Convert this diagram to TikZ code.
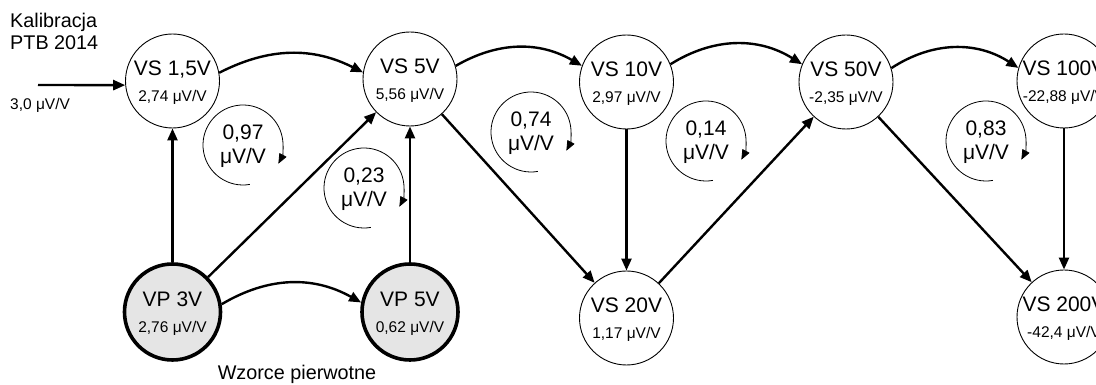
\documentclass[tikz,border=0pt]{standalone}
\usepackage{fontspec}
\setmainfont{Liberation Sans}
\usetikzlibrary{arrows.meta}
\begin{document}
\begin{tikzpicture}[x=1pt,y=1pt,
  vs/.style={circle, draw, line width=0.9pt, minimum size=94pt, inner sep=0pt},
  vp/.style={circle, draw, line width=3.6pt, fill=black!10, minimum size=96pt, inner sep=0pt},
  big/.style={font=\fontsize{21}{24}\selectfont, anchor=base, inner sep=0pt},
  small/.style={font=\fontsize{15.5}{18}\selectfont, anchor=base, inner sep=0pt},
  lbl/.style={font=\fontsize{19.8}{22}\selectfont, anchor=base west, inner sep=0pt},
  conn/.style={line width=2.4pt, -{Triangle[length=12pt,width=10pt]}},
  loopa/.style={line width=0.8pt, -{Triangle[length=10pt,width=8pt]}},
]
\useasboundingbox (0,0) rectangle (1096,385);
\clip (0,0) rectangle (1096,385);

% main nodes
\node[vs] (VS15) at (172.5,304) {};
\node[vs] (VS5) at (410,306) {};
\node[vs] (VS10) at (626.5,303) {};
\node[vs] (VS50) at (846,303) {};
\node[vs] (VS100) at (1064,304) {};
\node[vs] (VS20) at (626.5,67) {};
\node[vs] (VS200) at (1064,68) {};
\node[vp] (VP3) at (172.5,73) {};
\node[vp] (VP5) at (410,73) {};

% node texts
\node[big] (t15a) at ([yshift=5pt]VS15.center) {VS 1,5V};
\node[small] (t15b) at ([yshift=-21pt]VS15.center) {2,74 μV/V};
\node[big] (t5a) at ([yshift=5pt]VS5.center) {VS 5V};
\node[small] (t5b) at ([yshift=-21pt]VS5.center) {5,56 μV/V};
\node[big] (t10a) at ([yshift=5pt]VS10.center) {VS 10V};
\node[small] (t10b) at ([yshift=-21pt]VS10.center) {2,97 μV/V};
\node[big] (t50a) at ([yshift=5pt]VS50.center) {VS 50V};
\node[small] (t50b) at ([yshift=-21pt]VS50.center) {-2,35 μV/V};
\node[big] (t100a) at ([yshift=5pt]VS100.center) {VS 100V};
\node[small] (t100b) at ([yshift=-21pt]VS100.center) {-22,88 μV/V};
\node[big] (t20a) at ([yshift=5pt]VS20.center) {VS 20V};
\node[small] (t20b) at ([yshift=-21pt]VS20.center) {1,17 μV/V};
\node[big] (t200a) at ([yshift=5pt]VS200.center) {VS 200V};
\node[small] (t200b) at ([yshift=-21pt]VS200.center) {-42,4 μV/V};
\node[big] (tp3a) at ([yshift=5pt]VP3.center) {VP 3V};
\node[small] (tp3b) at ([yshift=-21pt]VP3.center) {2,76 μV/V};
\node[big] (tp5a) at ([yshift=5pt]VP5.center) {VP 5V};
\node[small] (tp5b) at ([yshift=-21pt]VP5.center) {0,62 μV/V};

% labels
\node[lbl] (kal) at (10,357) {Kalibracja};
\node[lbl] (ptb) at (10,335) {PTB 2014};
\node[small, anchor=base west] (inval) at (10,275) {3,0 μV/V};
\node[lbl, anchor=base] (wz) at (297,5) {Wzorce pierwotne};

% input arrow
\coordinate (in) at (38,300);
\draw[conn] (in) -- (VS15.185);

% curved arrows
\draw[conn] (VS15.10) to[bend left=27] (VS5.172);
\draw[conn] (VS5.16) to[bend left=30] (VS10.160);
\draw[conn] (VS10.22) to[bend left=32] (VS50.158);
\draw[conn] (VS50.17) to[bend left=33] (VS100.164);
\draw[conn] (VP3.9) to[bend left=30] (VP5.169);

% straight arrows
\draw[conn] (VP3) -- (VS15);
\draw[conn] (VP3) -- (VS5);
\draw[conn] (VP5) -- (VS5);
\draw[conn] (VS5) -- (VS20);
\draw[conn] (VS10) -- (VS20);
\draw[conn] (VS20) -- (VS50);
\draw[conn] (VS50) -- (VS200);
\draw[conn] (VS100) -- (VS200);

% loops
\coordinate (L1) at (243,240);
\coordinate (L2) at (364,197);
\coordinate (L3) at (531,253);
\coordinate (L4) at (706,244);
\coordinate (L5) at (986,244);
\foreach \c in {L1,L2,L3,L4,L5}{
  \draw[loopa] (\c) ++(-80:40) arc[start angle=-80, end angle=-388, radius=40];
}
\node[big] (l1a) at ([yshift=5pt]L1) {0,97};
\node[big] (l1b) at ([yshift=-19pt]L1) {μV/V};
\node[big] (l2a) at ([yshift=5pt]L2) {0,23};
\node[big] (l2b) at ([yshift=-19pt]L2) {μV/V};
\node[big] (l3a) at ([yshift=5pt]L3) {0,74};
\node[big] (l3b) at ([yshift=-19pt]L3) {μV/V};
\node[big] (l4a) at ([yshift=5pt]L4) {0,14};
\node[big] (l4b) at ([yshift=-19pt]L4) {μV/V};
\node[big] (l5a) at ([yshift=5pt]L5) {0,83};
\node[big] (l5b) at ([yshift=-19pt]L5) {μV/V};
\end{tikzpicture}
\end{document}
